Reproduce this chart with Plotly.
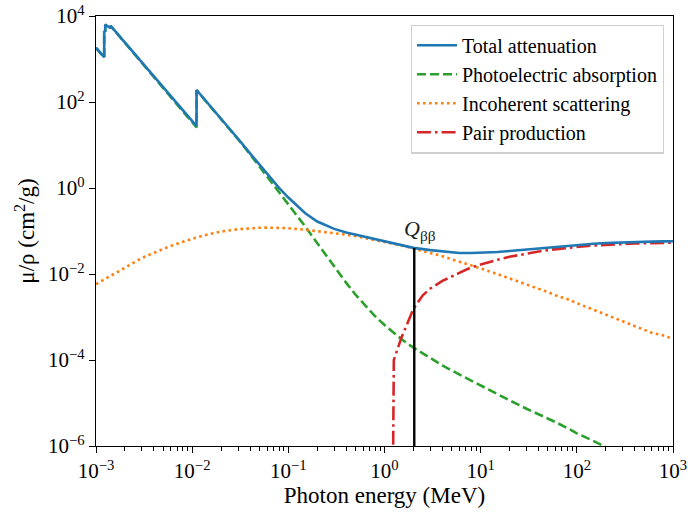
import math
import plotly.graph_objects as go

# ---------------- data ----------------
# Photon energies in MeV; edges are repeated (value just below / just above)
energy_main = [1.0e-3, 1.217e-3, 1.217e-3, 1.248e-3, 1.248e-3, 1.414e-3, 1.414e-3,
               1.5e-3, 2e-3, 3e-3, 4e-3, 5e-3, 6e-3, 8e-3, 1.0e-2, 1.1103e-2, 1.1103e-2,
               1.5e-2, 2e-2, 3e-2, 4e-2, 5e-2, 6e-2, 8e-2, 0.1, 0.15, 0.2, 0.3, 0.4,
               0.5, 0.6, 0.8, 1.0, 1.25, 1.5, 2.0, 3.0, 4.0, 5.0, 6.0, 8.0, 10.0,
               15.0, 20.0, 30.0, 40.0, 50.0, 60.0, 80.0, 100.0, 150.0, 200.0, 300.0,
               400.0, 500.0, 600.0, 800.0, 1000.0]

total_attenuation = [1830, 1100, 4450, 4300, 6300, 5250, 5950,
                     5100, 2390, 830, 390, 218, 136, 64, 36, 27.5, 190,
                     87, 41, 14.0, 6.4, 3.47, 2.12, 1.01, 0.60, 0.259, 0.166, 0.112, 0.092,
                     0.082, 0.074, 0.064, 0.0576, 0.0511, 0.0470, 0.0405, 0.0359, 0.0334, 0.0318, 0.0309, 0.0308, 0.0312,
                     0.0325, 0.0344, 0.0374, 0.0399, 0.0419, 0.0432, 0.0460, 0.0476, 0.0505, 0.0524, 0.0545,
                     0.0556, 0.0563, 0.0567, 0.0574, 0.0578]

photoelectric = [1800, 1080, 4430, 4280, 6280, 5230, 5930,
                 5080, 2370, 815, 380, 210, 130, 60, 33.5, 25.5, 188,
                 86, 40.4, 13.6, 6.1, 3.2, 1.89, 0.82, 0.43, 0.127, 0.052, 0.0148, 0.0062,
                 0.0033, 0.0021, 0.00104, 6.5e-4, 4.25e-4, 3.06e-4, 1.93e-4, 1.09e-4, 7.5e-5, 5.7e-5, 4.6e-5, 3.3e-5, 2.5e-5,
                 1.59e-5, 1.15e-5, 7.36e-6, 5.5e-6, 4.2e-6, 3.6e-6, 2.6e-6, 1.97e-6, 1.3e-6, 9.3e-7, 6.0e-7,
                 4.4e-7, 3.5e-7, 2.9e-7, 2.1e-7, 1.63e-7]

energy_incoh = [1e-3, 1.5e-3, 2e-3, 3e-3, 4e-3, 5e-3, 6e-3, 8e-3, 1e-2, 1.5e-2, 2e-2, 3e-2,
                4e-2, 5e-2, 6e-2, 8e-2, 0.1, 0.15, 0.2, 0.3, 0.4, 0.5, 0.6, 0.8, 1.0, 1.25,
                1.5, 2.0, 3.0, 4.0, 5.0, 6.0, 8.0, 10.0, 15.0, 20.0, 30.0, 40.0, 50.0, 60.0,
                80.0, 100.0, 150.0, 200.0, 300.0, 400.0, 500.0, 600.0, 800.0, 1000.0]
incoherent = [0.0058, 0.0097, 0.0145, 0.0235, 0.031, 0.038, 0.045, 0.056, 0.066, 0.085, 0.097, 0.110,
              0.116, 0.119, 0.120, 0.119, 0.116, 0.107, 0.100, 0.090, 0.082, 0.076, 0.070, 0.062, 0.056, 0.050,
              0.046, 0.039, 0.031, 0.026, 0.022, 0.0195, 0.0158, 0.0135, 0.0099, 0.0079, 0.0057, 0.0045, 0.0038, 0.0032,
              0.0026, 0.0021, 0.00148, 0.00115, 0.0008, 0.00062, 0.00051, 0.00043, 0.00037, 0.00031]

energy_pair = [1.022, 1.25, 1.5, 2.0, 2.5, 3.0, 4.0, 5.0, 6.0, 8.0, 10.0, 15.0, 20.0, 30.0,
               40.0, 50.0, 60.0, 80.0, 100.0, 150.0, 200.0, 300.0, 400.0, 500.0, 600.0, 800.0, 1000.0]
# value at the 1.022 MeV threshold is zero; a tiny number stands in for it on the log axis
pair_production = [1e-30, 1.0e-4, 3.3e-4, 1.55e-3, 3.2e-3, 4.6e-3, 6.9e-3, 8.9e-3, 0.0106, 0.0143, 0.0166, 0.0215, 0.0251, 0.0300,
                   0.0334, 0.0359, 0.0377, 0.0409, 0.0428, 0.0460, 0.0480, 0.0502, 0.0513, 0.0520, 0.0525, 0.0531, 0.0535]

q_bb = 2.039            # MeV
q_line_y = [1e-6, 0.0405]

x_tick_vals = [1e-3, 1e-2, 1e-1, 1e0, 1e1, 1e2, 1e3]
x_tick_text = ["10<sup>−3</sup>", "10<sup>−2</sup>", "10<sup>−1</sup>", "10<sup>0</sup>",
               "10<sup>1</sup>", "10<sup>2</sup>", "10<sup>3</sup>"]
y_tick_vals = [1e-6, 1e-4, 1e-2, 1e0, 1e2, 1e4]
y_tick_text = ["10<sup>−6</sup>", "10<sup>−4</sup>", "10<sup>−2</sup>", "10<sup>0</sup>",
               "10<sup>2</sup>", "10<sup>4</sup>"]

# ---------------- figure ----------------
FONT = "Liberation Serif"
LW = 2.6

fig = go.Figure()
fig.add_trace(go.Scatter(x=energy_main, y=photoelectric, mode="lines",
                         name="Photoelectric absorption", legendrank=2,
                         line=dict(color="#2ca02c", width=LW, dash="9px,4px")))
fig.add_trace(go.Scatter(x=energy_incoh, y=incoherent, mode="lines",
                         name="Incoherent scattering", legendrank=3,
                         line=dict(color="#ff7f0e", width=LW, dash="2.6px,3.4px")))
fig.add_trace(go.Scatter(x=energy_pair, y=pair_production, mode="lines",
                         name="Pair production", legendrank=4,
                         line=dict(color="#d62728", width=LW, dash="14px,4px,2.6px,4px")))
fig.add_trace(go.Scatter(x=energy_main, y=total_attenuation, mode="lines",
                         name="Total attenuation", legendrank=1,
                         line=dict(color="#1f77b4", width=LW)))
fig.add_trace(go.Scatter(x=[q_bb, q_bb], y=q_line_y, mode="lines", showlegend=False,
                         line=dict(color="black", width=2.4)))

fig.add_annotation(x=math.log10(q_bb), y=math.log10(0.046), xref="x", yref="y",
                   text="<i>Q</i><sub>ββ</sub>", showarrow=False,
                   xanchor="center", yanchor="bottom", xshift=6,
                   font=dict(family=FONT, size=22, color="#222"))

minor_x = [m * 10.0 ** k for k in range(-3, 3) for m in range(2, 10)]

fig.update_layout(
    width=688, height=512,
    margin=dict(l=96, r=15, t=16, b=66),
    paper_bgcolor="white", plot_bgcolor="white",
    font=dict(family=FONT, size=21, color="black"),
    showlegend=True,
    legend=dict(x=0.984, y=0.98, xanchor="right", yanchor="top",
                bgcolor="white", bordercolor="#d0d0d0", borderwidth=1.2,
                font=dict(family=FONT, size=20, color="black"),
                itemwidth=40, tracegroupgap=0),
    xaxis=dict(type="log", range=[-3, 3], showgrid=False, zeroline=False, automargin=False,
               showline=True, linecolor="black", linewidth=1.4, mirror=True,
               ticks="outside", ticklen=6, tickwidth=1.3, tickcolor="black",
               tickmode="array", tickvals=x_tick_vals, ticktext=x_tick_text,
               tickfont=dict(family=FONT, size=21),
               minor=dict(tickmode="array", tickvals=minor_x, ticks="outside",
                          ticklen=3.5, tickwidth=1.0, tickcolor="black"),
               title=dict(text="Photon energy (MeV)", font=dict(family=FONT, size=23),
                          standoff=4)),
    yaxis=dict(type="log", range=[-6, 4], showgrid=False, zeroline=False, automargin=False,
               showline=True, linecolor="black", linewidth=1.4, mirror=True,
               ticks="outside", ticklen=6, tickwidth=1.3, tickcolor="black",
               tickmode="array", tickvals=y_tick_vals, ticktext=y_tick_text,
               tickfont=dict(family=FONT, size=21),
               title=dict(text="μ/ρ (cm<sup>2</sup>/g)", font=dict(family=FONT, size=23),
                          standoff=6)),
)

fig.write_html("out.html")
